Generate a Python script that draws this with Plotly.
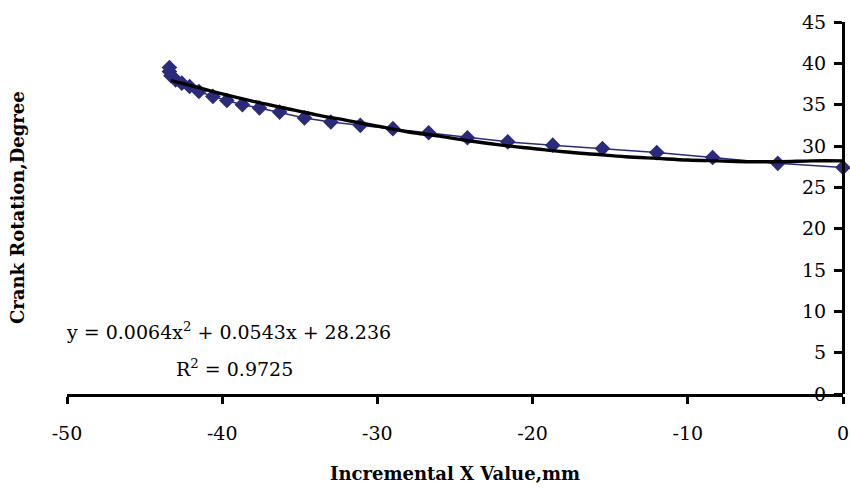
import plotly.graph_objects as go

# Measured data (blue series)
x_data = [-43.4, -43.4, -43.3, -43.0, -42.6, -42.1, -41.5, -40.6, -39.7, -38.7,
          -37.6, -36.3, -34.7, -33.0, -31.1, -29.0, -26.7, -24.2, -21.6, -18.7,
          -15.5, -12.0, -8.4, -4.2, 0.0]
y_data = [39.5, 39.0, 38.5, 38.0, 37.6, 37.2, 36.6, 36.0, 35.5, 35.0,
          34.6, 34.1, 33.4, 32.9, 32.5, 32.1, 31.6, 31.0, 30.5, 30.1,
          29.7, 29.2, 28.6, 27.9, 27.4]

# Trendline (black curve)
x_trend = [-43.3, -42, -40, -38, -36, -34, -32, -30, -28, -26, -24, -22,
           -20, -18, -16, -14, -12, -10, -8, -6, -4, -2, 0]
y_trend = [37.9, 37.3, 36.3, 35.4, 34.6, 33.8, 33.1, 32.4, 31.7, 31.2, 30.6, 30.1,
           29.7, 29.3, 29.0, 28.7, 28.5, 28.3, 28.2, 28.1, 28.1, 28.2, 28.2]

x_ticks = [-50, -40, -30, -20, -10, 0]
y_ticks = [0, 5, 10, 15, 20, 25, 30, 35, 40, 45]

eq_text = "y = 0.0064x<sup>2</sup> + 0.0543x + 28.236"
r2_text = "R<sup>2</sup> = 0.9725"
x_title = "Incremental X Value,mm"
y_title = "Crank Rotation,Degree"

FONT = "DejaVu Serif"
BLUE = "#2B2B7C"

fig = go.Figure()
fig.add_trace(go.Scatter(
    x=x_data, y=y_data, mode="lines+markers",
    line=dict(color=BLUE, width=1.5),
    marker=dict(symbol="diamond", size=12, color=BLUE),
    cliponaxis=False,
    showlegend=False,
))
fig.add_trace(go.Scatter(
    x=x_trend, y=y_trend, mode="lines",
    line=dict(color="black", width=3.4, shape="spline"),
    showlegend=False,
))

fig.update_layout(
    width=850, height=489,
    margin=dict(l=67, r=7, t=22, b=95),
    paper_bgcolor="white", plot_bgcolor="white",
    font=dict(family=FONT, color="black", size=17),
    xaxis=dict(
        range=[-50, 0], tickvals=x_ticks, ticktext=[str(v) for v in x_ticks],
        showgrid=False, zeroline=False, automargin=False,
        showline=True, linecolor="black", linewidth=3,
        ticks="outside", ticklen=7, tickwidth=3, tickcolor="black",
        tickfont=dict(family=FONT, size=19, color="black"),
        ticklabelstandoff=13,
    ),
    yaxis=dict(
        range=[0, 45], tickvals=y_ticks, ticktext=[str(v) for v in y_ticks],
        anchor="free", position=1, side="left",
        showgrid=False, zeroline=False, automargin=False,
        showline=True, linecolor="black", linewidth=3,
        ticks="outside", ticklen=8, tickwidth=3, tickcolor="black",
        tickfont=dict(family=FONT, size=19, color="black"),
        ticklabelstandoff=4,
    ),
    annotations=[
        dict(text=eq_text, x=-39.6, y=7.6, xref="x", yref="y",
             showarrow=False, xanchor="center", yanchor="middle",
             font=dict(family=FONT, size=19, color="black")),
        dict(text=r2_text, x=-39.2, y=3.1, xref="x", yref="y",
             showarrow=False, xanchor="center", yanchor="middle",
             font=dict(family=FONT, size=19, color="black")),
        dict(text="<b>" + x_title + "</b>", x=0.5, y=-0.215, xref="paper", yref="paper",
             showarrow=False, xanchor="center", yanchor="middle",
             font=dict(family=FONT, size=18, color="black")),
        dict(text="<b>" + y_title + "</b>", x=-0.0644, y=0.5, xref="paper", yref="paper",
             showarrow=False, xanchor="center", yanchor="middle", textangle=-90,
             font=dict(family=FONT, size=18, color="black")),
    ],
)

fig.write_html(
    "out.html",
    config={"displayModeBar": False},
    post_script="document.body.style.margin='0';document.body.style.overflow='hidden';",
)
